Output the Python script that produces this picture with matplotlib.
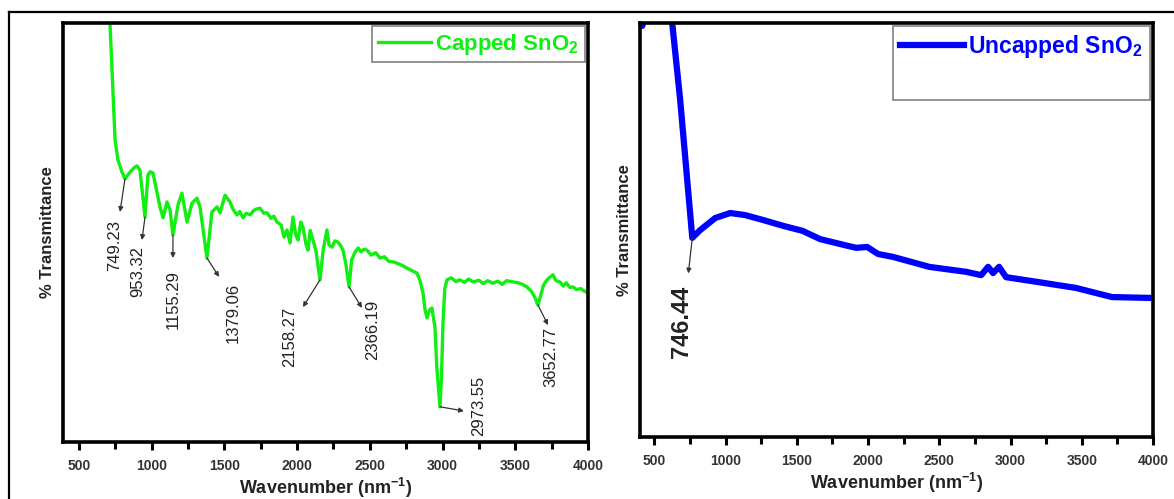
import matplotlib
matplotlib.use('Agg')
import matplotlib.pyplot as plt
from matplotlib.lines import Line2D
from matplotlib.ticker import MultipleLocator

plt.rcParams['font.family'] = ['Liberation Sans', 'DejaVu Sans']
plt.rcParams['mathtext.fontset'] = 'custom'
plt.rcParams['mathtext.rm'] = 'Liberation Sans:bold'
plt.rcParams['mathtext.it'] = 'Liberation Sans:bold'
plt.rcParams['mathtext.bf'] = 'Liberation Sans:bold'

# capped SnO2 spectrum (arbitrary % T units)
capped_wn = [700, 713, 748, 768, 796, 816, 851, 880, 899, 919, 954, 974, 990, 1009,
             1057, 1078, 1105, 1126, 1146, 1181, 1208, 1243, 1277, 1311, 1332, 1380,
             1414, 1449, 1470, 1504, 1538, 1560, 1586, 1605, 1628, 1650, 1676, 1700,
             1720, 1745, 1770, 1793, 1820, 1840, 1861, 1890, 1910, 1930, 1951, 1971,
             1990, 2006, 2025, 2040, 2060, 2075, 2090, 2109, 2130, 2157, 2180, 2205,
             2220, 2240, 2260, 2281, 2300, 2315, 2335, 2357, 2375, 2398, 2420, 2440,
             2460, 2480, 2510, 2540, 2570, 2600, 2630, 2659, 2700, 2730, 2755, 2790,
             2824, 2845, 2865, 2880, 2893, 2910, 2927, 2940, 2948, 2960, 2982, 2992,
             3003, 3015, 3030, 3060, 3090, 3120, 3150, 3180, 3210, 3250, 3280, 3310,
             3347, 3380, 3410, 3440, 3484, 3520, 3550, 3580, 3610, 3635, 3656, 3675,
             3695, 3718, 3740, 3759, 3780, 3807, 3830, 3850, 3875, 3897, 3920, 3950,
             3975, 4000]
capped_t = [106, 100, 72.1, 67.3, 64.4, 62.8, 64.4, 65.5, 65.9, 64.9, 53.7, 63.7, 64.5, 64.2,
            56.1, 53.5, 57.3, 55.4, 49.4, 56.6, 59.4, 52.5, 57.0, 58.2, 56.1, 43.9,
            54.9, 56.1, 54.7, 58.9, 57.3, 55.5, 54.2, 55.0, 53.5, 54.6, 54.2, 55.2,
            55.6, 55.8, 54.6, 54.7, 53.4, 53.9, 52.5, 51.8, 48.9, 50.6, 47.5, 53.7,
            49.5, 48.2, 52.5, 51.3, 47.3, 45.8, 50.5, 48.2, 45.5, 38.7, 46.0, 50.6,
            47.0, 46.5, 48.0, 47.7, 46.8, 45.8, 42.5, 37.0, 43.5, 45.3, 46.3, 45.4,
            46.0, 45.8, 44.6, 45.2, 43.9, 44.2, 43.1, 43.0, 42.5, 42.0, 41.5, 40.9,
            40.3, 38.5, 35.6, 31.5, 29.6, 31.5, 32.0, 29.0, 27.4, 18.0, 8.4, 15.0,
            28.4, 36.5, 38.7, 39.2, 38.3, 38.7, 38.1, 38.9, 38.2, 38.6, 37.8, 38.5,
            37.9, 38.4, 37.6, 38.5, 38.2, 38.0, 37.6, 37.0, 36.0, 34.5, 32.7, 35.0,
            37.5, 38.7, 39.4, 39.9, 38.5, 38.2, 37.2, 38.0, 36.9, 37.0, 36.4, 36.6,
            36.0, 35.6]

# uncapped SnO2 spectrum
uncapped_wn = [400, 416, 430, 600, 626, 682, 767, 823, 928, 1033, 1138, 1265, 1405, 1540,
               1664, 1854, 1917, 1994, 2071, 2176, 2303, 2429, 2688, 2794, 2843, 2878,
               2920, 2969, 3200, 3460, 3712, 3972, 4000]
uncapped_t = [104, 99.3, 104, 110, 100, 81.4, 48.1, 50.0, 52.9, 54.1, 53.6, 52.4, 51.0, 49.8,
              47.8, 46.2, 45.7, 45.9, 44.2, 43.5, 42.3, 41.1, 39.9, 39.1, 41.1, 39.6,
              41.1, 38.6, 37.4, 36.0, 33.8, 33.6, 33.6]

# peak labels: (peak wn, peak T, arrow end wn, arrow end T, text wn, text T)
capped_labels = ['749.23', '953.32', '1155.29', '1379.06', '2158.27', '2366.19', '2973.55', '3652.77']
capped_marks = [(816, 62.8, 782, 54.9, 748, 47.0),
                (954, 53.7, 933, 48.2, 906, 40.6),
                (1146, 49.4, 1146, 43.9, 1146, 34.1),
                (1380, 43.9, 1463, 39.4, 1559, 30.8),
                (2157, 38.7, 2040, 32.2, 1951, 25.1),
                (2357, 37.0, 2446, 32.0, 2522, 26.7),
                (2982, 8.4, 3147, 7.4, 3250, 8.6),
                (3656, 32.7, 3725, 27.9, 3745, 20.3)]
uncapped_labels = ['746.44']
uncapped_marks = [(767, 48.1, 739, 39.5, 690, 27.7)]

W, H = 1174, 499
fig = plt.figure(figsize=(W / 100, H / 100), dpi=100)
ax1 = fig.add_axes([63 / W, 1 - 442 / H, 525 / W, 419 / H])
ax2 = fig.add_axes([640 / W, 1 - 437 / H, 513 / W, 414 / H])

ax1.plot(capped_wn, capped_t, color='#11ee11', lw=2.4, label='Capped SnO$_2$')
ax2.plot(uncapped_wn, uncapped_t, color='#0000ff', lw=4.5, label='Uncapped SnO$_2$')

arrow = dict(arrowstyle='-|>', color='#333333', lw=0.9, shrinkA=0, shrinkB=0,
             mutation_scale=7)
for lab, m in zip(capped_labels, capped_marks):
    ax1.annotate('', xy=(m[2], m[3]), xytext=(m[0], m[1]), arrowprops=arrow)
    ax1.text(m[4], m[5], lab, rotation=90, ha='center', va='center',
             fontsize=12, color='#222222')
for lab, m in zip(uncapped_labels, uncapped_marks):
    ax2.annotate('', xy=(m[2], m[3]), xytext=(m[0], m[1]), arrowprops=arrow)
    ax2.text(m[4], m[5], lab, rotation=90, ha='center', va='center',
             fontsize=17, fontweight='bold', color='#222222')

for ax, x0 in ((ax1, 390), (ax2, 400)):
    ax.set_xlim(x0, 4000)
    ax.set_ylim(0, 100)
    ax.xaxis.set_major_locator(MultipleLocator(500))
    ax.xaxis.set_minor_locator(MultipleLocator(250))
    ax.set_yticks([])
    ax.tick_params(axis='x', which='major', direction='out', length=6, width=2.2,
                   labelsize=10, labelcolor='#333333', pad=6)
    ax.tick_params(axis='x', which='minor', direction='out', length=5, width=2.2)
    for lbl in ax.get_xticklabels():
        lbl.set_fontweight('bold')
    for s in ax.spines.values():
        s.set_linewidth(2.6)
    ax.set_xlabel('Wavenumber (nm$^{-1}$)', fontsize=13, fontweight='bold',
                  color='#222222', labelpad=2)
    ax.set_ylabel('% Transmittance', fontsize=12, fontweight='bold',
                  color='#222222', labelpad=6)

leg1 = ax1.legend(loc='upper right', frameon=True, fancybox=False, framealpha=1,
                  edgecolor='#808080', borderaxespad=0.15, handlelength=2.4,
                  handletextpad=0.2, borderpad=0.25,
                  prop={'weight': 'bold', 'size': 16})
for t in leg1.get_texts():
    t.set_color('#11ee11')

h2, l2 = ax2.get_legend_handles_labels()
h2.append(Line2D([], [], color='none'))
l2.append(' ')
leg2 = ax2.legend(h2, l2, loc='upper right', frameon=True, fancybox=False, framealpha=1,
                  edgecolor='#808080', borderaxespad=0.15, handlelength=2.8,
                  handletextpad=0.2, borderpad=0.3, labelspacing=0.45,
                  prop={'weight': 'bold', 'size': 16.5})
leg2.get_texts()[0].set_color('#0000ff')
leg1.get_frame().set_linewidth(1.2)
leg2.get_frame().set_linewidth(1.2)

# outer frame lines
fig.add_artist(Line2D([9 / W, 1], [1 - 12 / H, 1 - 12 / H], transform=fig.transFigure,
                      color='black', lw=1.6))
fig.add_artist(Line2D([9 / W, 9 / W], [0, 1 - 12 / H], transform=fig.transFigure,
                      color='black', lw=1.6))

fig.savefig('out.png', dpi=100)
